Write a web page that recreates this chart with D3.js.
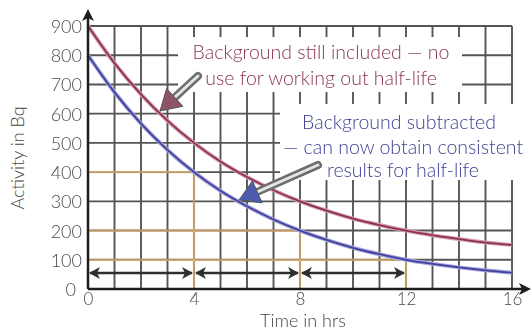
<!DOCTYPE html>
<html>
<head>
<meta charset="utf-8">
<script src="https://cdn.jsdelivr.net/npm/d3@7/dist/d3.min.js"></script>
<style>
  html, body { margin: 0; padding: 0; background: #fff; }
  svg { display: block; }
  text { font-family: Lato, "Open Sans", sans-serif; }
</style>
</head>
<body>
<svg id="chart" width="532" height="331"></svg>
<script>
// Decay readings, one per hour
const hours = [0, 1, 2, 3, 4, 5, 6, 7, 8, 9, 10, 11, 12, 13, 14, 15, 16];
const withBackground = [900, 773, 666, 576, 500, 436, 383, 338, 300, 268, 241, 219, 200, 184, 171, 159, 151];
const backgroundSubtracted = [800, 673, 566, 476, 400, 336, 283, 238, 200, 168, 141, 119, 100, 86, 74, 64, 56];

// Axis ticks
const xTicks = [0, 4, 8, 12, 16];
const yTicks = [0, 100, 200, 300, 400, 500, 600, 700, 800, 900];

// Half-life read-offs on the subtracted curve
const halfLifeTimes = [4, 8, 12];
const halfLifeActivity = [400, 200, 100];
const arrowLevel = 55;

const svg = d3.select("#chart");
const x = d3.scaleLinear().domain([0, 16]).range([88, 512]);
const y = d3.scaleLinear().domain([0, 900]).range([289, 26]);

const defs = svg.append("defs");
defs.append("filter").attr("id", "soft")
  .append("feGaussianBlur").attr("stdDeviation", 0.7);

// Graph-paper grid
const grid = svg.append("g").attr("filter", "url(#soft)");
grid.selectAll("line.v").data(d3.range(1, 17)).join("line")
  .attr("x1", d => x(d)).attr("x2", d => x(d))
  .attr("y1", y(900)).attr("y2", y(0))
  .attr("stroke", "#555").attr("stroke-width", 1.9);
grid.selectAll("line.h").data(yTicks.slice(1)).join("line")
  .attr("x1", x(0)).attr("x2", x(16))
  .attr("y1", d => y(d)).attr("y2", d => y(d))
  .attr("stroke", "#555").attr("stroke-width", 1.9);

// Half-life guide lines
const guides = svg.append("g").attr("filter", "url(#soft)");
halfLifeTimes.forEach((t, i) => {
  const v = halfLifeActivity[i];
  guides.append("line")
    .attr("x1", x(0)).attr("x2", x(t)).attr("y1", y(v)).attr("y2", y(v))
    .attr("stroke", "#eeb772").attr("stroke-width", 2.2).attr("opacity", 0.7);
  guides.append("line")
    .attr("x1", x(t)).attr("x2", x(t)).attr("y1", y(v)).attr("y2", y(0))
    .attr("stroke", "#eeb772").attr("stroke-width", 2.2).attr("opacity", 0.7);
});

// White panels behind the annotations
svg.append("rect").attr("x", 178).attr("y", 37).attr("width", 284).attr("height", 55).attr("fill", "#fff");
svg.append("rect").attr("x", 280).attr("y", 104).attr("width", 250).attr("height", 76).attr("fill", "#fff");

// Decay curves
const line = d3.line().x((d, i) => x(hours[i])).y(d => y(d)).curve(d3.curveMonotoneX);
svg.append("path").datum(withBackground).attr("d", line)
  .attr("fill", "none").attr("stroke", "#d2a0b0").attr("stroke-width", 4);
svg.append("path").datum(withBackground).attr("d", line)
  .attr("fill", "none").attr("stroke", "#8f2f52").attr("stroke-width", 1.8);
svg.append("path").datum(backgroundSubtracted).attr("d", line)
  .attr("fill", "none").attr("stroke", "#a4a4da").attr("stroke-width", 4);
svg.append("path").datum(backgroundSubtracted).attr("d", line)
  .attr("fill", "none").attr("stroke", "#40419e").attr("stroke-width", 1.8);

// Half-life double arrows
function head(g, tipX, tipY, dir) {
  const L = 11, W = 6;
  g.append("path")
    .attr("d", `M${tipX},${tipY} L${tipX - dir * L},${tipY - W} L${tipX - dir * (L - 3)},${tipY} L${tipX - dir * L},${tipY + W} Z`)
    .attr("fill", "#2e2e2e");
}
const spans = svg.append("g");
const starts = [0].concat(halfLifeTimes.slice(0, -1));
starts.forEach((s, i) => {
  const e = halfLifeTimes[i];
  spans.append("line")
    .attr("x1", x(s) + 2).attr("x2", x(e) - 2)
    .attr("y1", y(arrowLevel)).attr("y2", y(arrowLevel))
    .attr("stroke", "#2e2e2e").attr("stroke-width", 2.5);
  head(spans, x(s) + 1, y(arrowLevel), -1);
  head(spans, x(e) - 1, y(arrowLevel), 1);
});

// Axes
const axisColor = "#1e1e1e";
svg.append("line").attr("x1", x(0)).attr("x2", 527).attr("y1", y(0)).attr("y2", y(0))
  .attr("stroke", axisColor).attr("stroke-width", 2.5);
svg.append("path").attr("d", `M531,${y(0)} L519,${y(0) - 6} L522,${y(0)} L519,${y(0) + 6} Z`).attr("fill", axisColor);
svg.append("line").attr("x1", x(0)).attr("x2", x(0)).attr("y1", y(0)).attr("y2", 14)
  .attr("stroke", axisColor).attr("stroke-width", 2.5);
svg.append("path").attr("d", `M${x(0)},9 L${x(0) - 6},21 L${x(0)},18 L${x(0) + 6},21 Z`).attr("fill", axisColor);

const yAxis = svg.append("g").attr("transform", `translate(${x(0)},0)`)
  .call(d3.axisLeft(y).tickValues(yTicks).tickSize(0).tickPadding(6));
yAxis.select(".domain").remove();
yAxis.selectAll("text").attr("font-size", 18).attr("fill", "#4a4a4a").attr("font-family", "'DejaVu Sans', sans-serif")
  .attr("font-weight", 300).attr("dy", "0.36em").attr("dx", d => d === 0 ? -6 : 0);

const xAxis = svg.append("g").attr("transform", `translate(0,${y(0)})`)
  .call(d3.axisBottom(x).tickValues(xTicks).tickSize(0).tickPadding(4));
xAxis.select(".domain").remove();
xAxis.selectAll("text").attr("font-size", 17).attr("fill", "#4a4a4a").attr("font-family", "'DejaVu Sans', sans-serif")
  .attr("font-weight", 300);

svg.append("text").attr("x", 303).attr("y", 327).attr("text-anchor", "middle")
  .attr("font-size", 18).attr("font-weight", 300).attr("fill", "#444").text("Time in hrs");
svg.append("text").attr("transform", "translate(24,158) rotate(-90)").attr("text-anchor", "middle")
  .attr("font-size", 18).attr("font-weight", 300).attr("fill", "#444").text("Activity in Bq");

// Pointer arrows from the notes to the curves
function pointer(x1, y1, x2, y2, color) {
  const ang = Math.atan2(y2 - y1, x2 - x1);
  const hl = 20, hw = 12;
  const bx = x2 - Math.cos(ang) * hl, by = y2 - Math.sin(ang) * hl;
  const g = svg.append("g");
  g.append("line").attr("x1", x1).attr("y1", y1).attr("x2", bx).attr("y2", by)
    .attr("stroke", "#6d6d6d").attr("stroke-width", 8).attr("stroke-linecap", "round");
  g.append("line").attr("x1", x1).attr("y1", y1).attr("x2", bx).attr("y2", by)
    .attr("stroke", "#e4e4e4").attr("stroke-width", 3).attr("stroke-linecap", "round");
  const px = -Math.sin(ang), py = Math.cos(ang);
  g.append("path")
    .attr("d", `M${x2},${y2} L${bx + px * hw},${by + py * hw} L${bx - px * hw},${by - py * hw} Z`)
    .attr("fill", color).attr("stroke", "#555").attr("stroke-width", 1);
}
pointer(198, 76, 160, 111, "#8e5466");
pointer(318, 165, 239, 200, "#4b5cae");

// Annotations
const noteRed = svg.append("text").attr("text-anchor", "middle").attr("fill", "#8a3356")
  .attr("font-size", 19.5).attr("font-weight", 300);
noteRed.append("tspan").attr("x", 321).attr("y", 59).text("Background still included — no");
noteRed.append("tspan").attr("x", 321).attr("y", 85).text("use for working out half-life");

const noteBlue = svg.append("text").attr("text-anchor", "middle").attr("fill", "#3c3f92")
  .attr("font-size", 19.5).attr("font-weight", 300);
noteBlue.append("tspan").attr("x", 399).attr("y", 129).text("Background subtracted");
noteBlue.append("tspan").attr("x", 403).attr("y", 154).text("— can now obtain consistent");
noteBlue.append("tspan").attr("x", 403).attr("y", 177).text("results for half-life");
</script>
</body>
</html>
